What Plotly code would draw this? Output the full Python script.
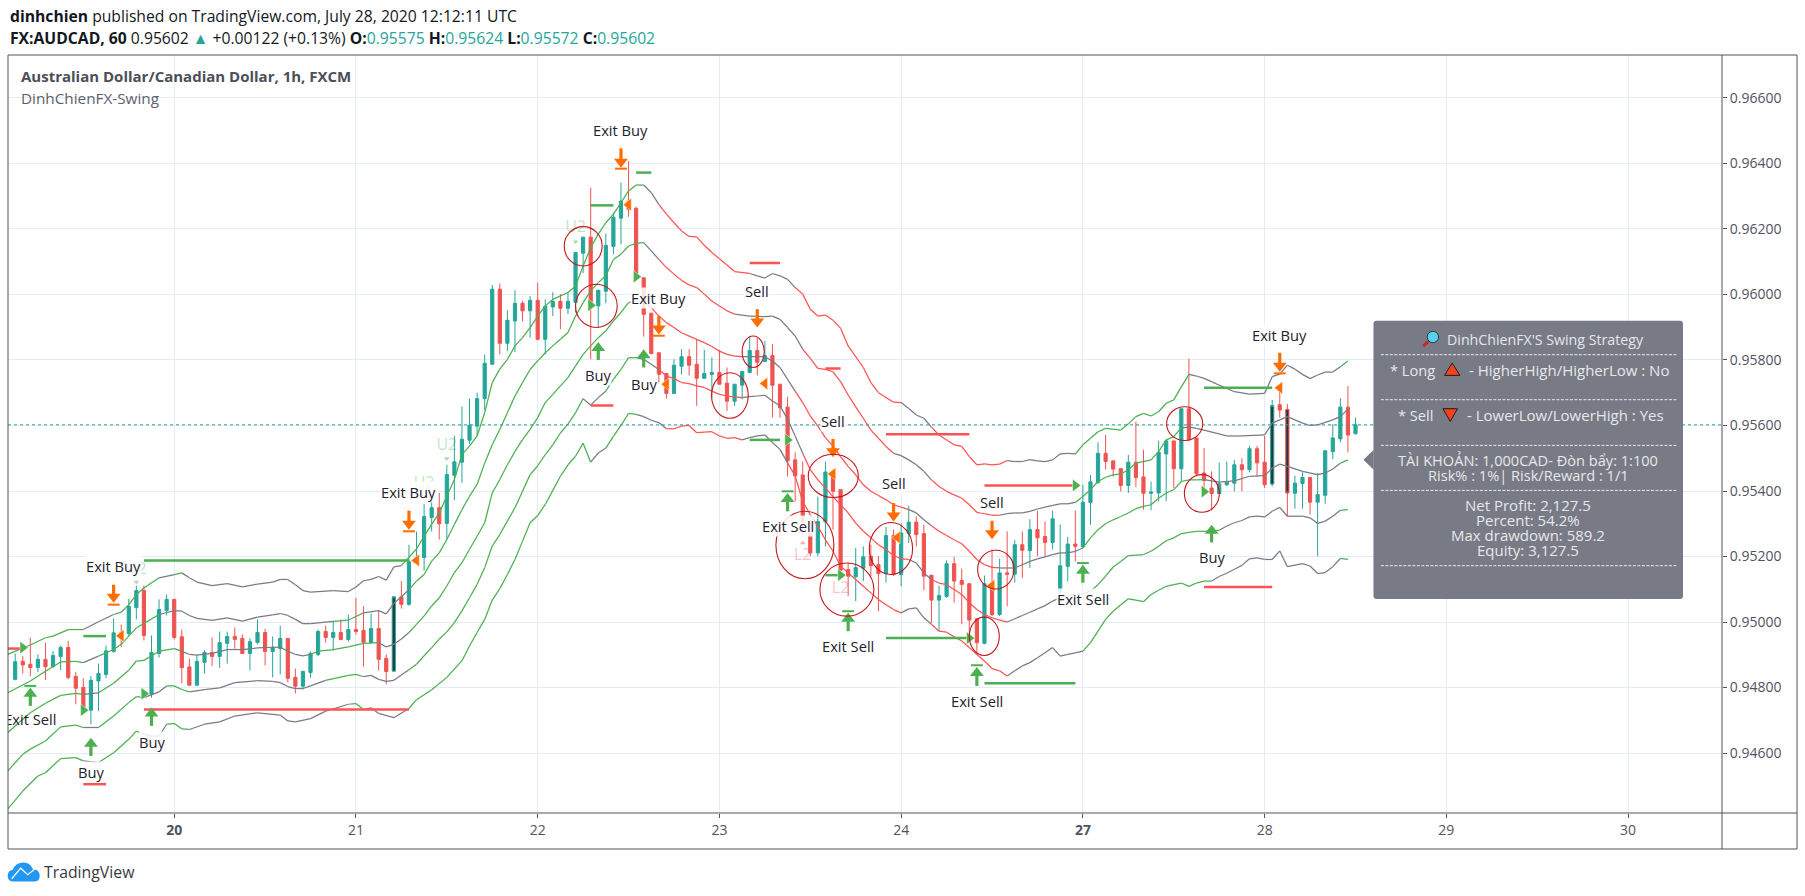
import numpy as np
import plotly.graph_objects as go

SCALE = 1e5
bar_index = list(range(-21, 157))
highlight_bars = [29, 145, 147]
last_close = 0.95602

open_pts = [94825,94880,94871,94861,94886,94864,94895,94922,94834,94800,94731,94820,94840,94910,94967,94965,95044,95096,94779,94904,95035,
95069,94955,94863,94807,94877,94907,94895,94935,94956,94950,94904,94938,94968,94910,94919,94950,94831,94804,94846,94901,94971,94953,94968,94947,
94977,94974,94937,94980,94889,94850,95077,95054,95182,95197,95319,95349,95301,95448,95488,95555,95598,95682,95787,96016,95851,95919,95973,95950,95982,95863,95962,95979,95958,
95976,96126,96175,95965,96010,96147,96233,96285,96263,96051,95943,95822,95759,95698,95781,95810,95787,95744,95756,95762,95729,95674,95723,95762,95829,95795,95814,95726,
95656,95495,95449,95270,95211,95306,95458,95404,95160,95138,95164,95201,95175,95148,95264,95145,95270,95305,95270,95143,95067,95078,95178,95127,95117,95010,94935,95117,95023,
95150,95146,95236,95218,95282,95261,95243,95091,95170,95238,95229,95365,95426,95515,95492,95468,95417,95488,95443,95393,95394,95513,95553,95468,95651,95562,95455,95409,95392,95419,95424,95480,95465,95529,95488,95421,95663,95649,95393,95423,95441,95366,95387,95520,95559,95656,95575]
high_pts = [94904,94896,94952,94901,94937,94911,94928,94943,94847,94828,94835,94873,94928,95011,94992,95071,95111,95111,94959,95069,95084,
95071,94977,94888,94899,94914,94953,94971,94971,94983,94962,94950,95008,94979,94956,94989,94950,94858,94852,94910,94977,94989,95003,95008,95023,
95074,95048,95026,95034,94901,95077,95125,95236,95276,95361,95392,95394,95480,95569,95658,95682,95700,95817,96029,96034,95952,96013,95980,95995,96036,95985,96007,96001,96006,
96128,96175,96326,96013,96186,96250,96342,96407,96268,96051,95943,95822,95759,95802,95833,95833,95863,95831,95808,95831,95777,95726,95765,95873,95868,95858,95848,95726,
95688,95518,95490,95310,95383,95490,95465,95404,95180,95226,95231,95236,95201,95290,95282,95302,95355,95322,95297,95143,95111,95188,95199,95163,95117,95010,95142,95221,95193,
95277,95251,95277,95314,95340,95307,95340,95298,95260,95340,95419,95449,95549,95571,95492,95468,95510,95612,95526,95429,95554,95556,95553,95651,95804,95562,95531,95460,95487,95490,95495,95500,95538,95538,95568,95678,95713,95666,95447,95457,95441,95455,95523,95604,95683,95720,95624]
low_pts = [94822,94843,94835,94847,94823,94860,94853,94825,94749,94728,94688,94728,94828,94906,94923,94957,95008,94944,94769,94891,95020,
94947,94813,94807,94807,94843,94866,94860,94873,94919,94904,94852,94932,94868,94831,94840,94816,94782,94794,94830,94896,94937,94913,94944,94940,
94962,94864,94935,94852,94810,94850,95041,95050,95181,95157,95276,95252,95252,95372,95425,95544,95568,95647,95787,95817,95827,95824,95918,95868,95860,95817,95934,95894,95940,
95945,96065,95802,95899,95973,96123,96153,96237,96046,95871,95817,95731,95682,95698,95756,95753,95660,95744,95685,95726,95644,95660,95680,95759,95753,95795,95624,95624,
95444,95368,95262,95201,95201,95231,95282,95130,95079,95064,95125,95140,95033,95120,95140,95109,95241,95231,95097,94998,94972,95074,95059,94993,94962,94901,94932,95018,95018,
95048,95120,95134,95165,95201,95199,95221,95048,95124,95185,95229,95297,95422,95465,95444,95399,95394,95412,95343,95341,95368,95369,95409,95429,95554,95447,95409,95340,95392,95415,95399,95399,95457,95445,95409,95414,95624,95323,95346,95346,95328,95201,95361,95497,95549,95518,95572]
close_pts = [94879,94869,94861,94886,94864,94898,94922,94831,94798,94733,94822,94843,94912,94967,94959,95048,95096,94959,94907,95038,95069,
94953,94861,94807,94880,94907,94895,94937,94956,94947,94904,94940,94968,94910,94922,94950,94828,94804,94849,94904,94971,94953,94968,94947,94977,
94971,94938,94980,94886,94849,95077,95054,95184,95197,95322,95349,95300,95450,95489,95558,95601,95682,95790,96016,95851,95921,95973,95950,95982,95863,95964,95979,95958,95979,
96128,96175,95965,96013,96150,96236,96285,96260,96049,95939,95820,95756,95698,95784,95810,95784,95744,95759,95762,95726,95674,95726,95765,95829,95793,95814,95723,95654,
95492,95446,95307,95211,95307,95458,95399,95158,95140,95166,95199,95172,95148,95264,95145,95272,95305,95267,95140,95067,95081,95178,95125,95115,95006,94937,95117,95023,95150,
95146,95236,95219,95282,95257,95243,95315,95172,95238,95231,95366,95428,95515,95490,95467,95417,95488,95441,95393,95397,95518,95553,95468,95651,95556,95453,95432,95392,95422,95427,95480,95465,95529,95486,95419,95661,95647,95394,95424,95441,95366,95389,95523,95562,95656,95571,95602]

band_a_x = [-22,-19,-17,-16,-14,-12,-10,-8,-7,-6,-5,-4,-2,0,1,2,3,5,7,9,11,13,14,15,16,17,18,21,23,24,25,26,27,28,29,30,31,32,33,34,35,36,37,38,39,40,41,42,43,44,45,46,47,48,49,50,52,53,54,55,56,57,58,59,60,61,62,63,64,65,66,67,68,69,70,71,72,73,74,76,77,78,79,80,81,82,83,84,85,86,87,88,89,91,92,93,95] + list(range(96,139)) + [140,142,144,145,146,147,148,149,150,151,152,153,154,155]
band_a_y = [94901,94930,94952,94957,94977,94977,95001,95023,95030,95053,95084,95104,95135,95145,95150,95135,95122,95111,95117,95107,95116,95122,95130,95130,95114,95096,95091,95096,95093,95107,95126,95130,95139,95128,95168,95172,95198,95223,95262,95298,95333,95384,95435,95511,95537,95568,95639,95731,95772,95802,95843,95868,95899,95934,95965,95985,96006,96026,96087,96143,96184,96219,96245,96280,96316,96334,96334,96311,96275,96245,96219,96194,96177,96176,96150,96128,96109,96090,96070,96064,96057,96050,96064,96057,96046,96021,96001,95955,95934,95937,95921,95897,95843,95777,95731,95700,95671,
95670,95652,95632,95622,95595,95571,95556,95541,95536,95505,95480,95483,95480,95482,95493,95490,95490,95496,95492,95490,95495,95513,95515,95513,95541,95561,95581,95591,95589,95586,95605,95627,95637,95629,95642,95668,95678,95718,95756,95751,95744,95734,95723,
95703,95696,95698,95749,95757,95784,95772,95756,95743,95754,95763,95763,95779,95797]
band_a_run = [-22,-12,-9,-2,0,1,30,62,64,75,82,96,100,110,119,134,154]
band_a_col = ['g','n','g','n','g','n','g','n','r','n','r','n','r','n','g','n','g']

band_b_x = [-22,-19,-17,-15,-13,-12,-10,-8,-7,-6,-5,-4,-2,0,1,2,3,5,7,9,11,13,14,15,16,17,18,21,23,24,25,27,28] + list(range(29,75)) + [76,78,79,80,81,82,83] + list(range(84,136)) + [136,139,141,144,145,147,149,150,151,153,154,155]
band_b_y = [94784,94820,94850,94878,94880,94876,94896,94916,94932,94957,94982,94996,95023,95035,95033,95020,95011,95005,95013,95003,95015,95022,95026,95020,95008,94995,94995,95002,95006,95017,95028,95035,95025,
95057,95077,95099,95125,95145,95186,95211,95252,95298,95343,95384,95420,95485,95541,95588,95639,95690,95731,95771,95797,95822,95843,95863,95884,95934,95975,96011,96036,96057,96107,96123,96148,96156,96158,96133,96107,96082,96062,96043,96029,96021,96001,95980,95965,95950,95940,
95934,95932,95934,95924,95899,95873,95833,
95805,95774,95771,95764,95734,95693,95657,95622,95586,95561,95536,95515,95508,95495,95480,95460,95434,95414,95399,95388,95378,95358,95335,95331,95326,95326,95331,95333,95333,95338,95345,95351,95356,95361,95361,95365,95383,95404,95429,95442,95449,95452,95465,95485,95490,95495,95520,95556,95566,95593,95595,95591,
95586,95568,95568,95571,95607,95627,95607,95600,95602,95617,95627,95650]
band_b_run = [-22,-12,-10,-2,1,20,25,31,62,64,74,83,95,100,109,119,133]
band_b_col = ['g','n','g','n','n','g','n','g','n','r','n','r','n','r','n','g','n']

band_c_x = [-22,-20,-19,-17,-15,-13,-12,-10,-8,-6,-5,-4,-2,0,1,2,3,5,7,9,11,13,14,15,16,17,18,19,21,23,25,27,28,29,30,31,32] + list(range(33,136)) + [136,138,140,142,144,145,146,147,149,151,152,153,154,155]
band_c_y = [94662,94703,94723,94752,94776,94782,94779,94784,94813,94853,94881,94883,94911,94919,94911,94901,94899,94904,94916,94916,94921,94923,94923,94911,94901,94897,94901,94911,94916,94924,94935,94937,94924,94932,94948,94968,94993,
95019,95049,95074,95110,95151,95181,95222,95262,95303,95394,95435,95480,95521,95557,95588,95624,95670,95695,95721,95746,95782,95817,95843,95868,95889,95919,95945,95975,95980,95977,95960,95934,95914,95899,95883,95873,95863,95853,95841,95827,95817,95812,95810,95810,95810,95810,95797,95777,95741,95705,95670,95629,95598,95563,95537,
95505,95475,95449,95419,95399,95386,95373,95358,95351,95343,95333,95312,95294,95277,95264,95251,95239,95216,95191,95175,95167,95165,95165,95165,95175,95185,95193,95199,95206,95211,95211,95216,95226,95257,95282,95300,95312,95322,95333,95346,95353,95358,95378,95394,95404,95429,95434,95434,
95435,95427,95431,95445,95447,95470,95482,95475,95460,95450,95455,95467,95485,95495]
band_c_run = [-22,-12,-10,1,18,27,31,61,63,75,82,97,100,109,120,136,154]
band_c_col = ['g','n','g','n','g','n','g','n','r','n','r','n','r','n','g','n','g']

band_d_x = [-22,-20,-19,-17,-15,-13,-12,-10,-8,-6,-5,-4,-2,-1,0,1,2,4,6,8,11,13,14,15,16,17,18,20,23,24,25,26,27,28,29] + list(range(31,136)) + [136,138,139,140,141,142,143,144,145,146,147,149,150,151,152,153,154,155]
band_d_y = [94545,94596,94612,94637,94680,94685,94678,94678,94713,94754,94772,94769,94787,94805,94805,94794,94787,94794,94799,94815,94821,94819,94815,94803,94797,94797,94805,94822,94837,94840,94833,94837,94825,94819,94822,
94854,94871,94897,94922,94948,94970,94998,95034,95074,95115,95166,95232,95267,95308,95349,95399,95450,95477,95511,95541,95577,95604,95639,95682,95662,95685,95705,95741,95771,95807,95807,95802,95787,95771,95751,95743,95731,95728,95721,95716,95705,95695,95690,95687,95685,95688,95690,95692,95675,95660,95619,95568,95515,
95465,95434,95409,95383,95358,95333,95302,95277,95257,95236,95221,95203,95193,95191,95180,95150,95130,95119,95114,95099,95084,95059,95038,95023,95013,95006,95000,95010,95020,95030,95040,95050,95064,95074,95079,95084,95086,95094,95114,95140,95168,95185,95203,95204,95206,95216,95231,95248,95257,95270,95274,95277,
95277,95280,95293,95303,95310,95321,95323,95321,95338,95350,95323,95323,95318,95301,95308,95323,95341,95343]
band_d_run = [-22,-12,-10,-4,-1,2,20,25,31,54,57,61,64,75,83,97,100,110,121,137,154]
band_d_col = ['g','n','g','n','g','n','g','n','g','n','g','n','r','n','r','n','r','n','g','n','g']

band_e_x = [-22,-20,-18,-17,-15,-13,-12,-10,-8,-6,-5,-4,-3,-2,-1,0,1,2,4,6,8,11,14,15,16,18,20,23,24,25,26,27,29,31,32,34,36] + list(range(38,137)) + [137,138,139,140,141,142,143,144,145,146,147,148,149,150,151,152,153,154,155]
band_e_y = [94429,94484,94530,94540,94583,94586,94576,94571,94601,94642,94667,94657,94652,94652,94688,94690,94674,94672,94688,94695,94713,94723,94716,94698,94695,94705,94728,94749,94751,94733,94738,94721,94708,94736,94763,94793,94831,
94882,94927,94968,95008,95067,95102,95145,95191,95247,95303,95325,95359,95402,95445,95480,95506,95546,95488,95516,95531,95567,95600,95637,95634,95627,95616,95609,95590,95590,95598,95600,95578,95580,95581,95568,95561,95563,95556,95563,95568,95571,95548,95527,95486,95446,
95368,95328,95292,95251,95216,95170,95150,95130,95109,95089,95069,95053,95038,95028,95040,95043,95013,94993,94972,94969,94955,94942,94922,94901,94881,94858,94851,94835,94851,94866,94876,94891,94906,94922,94896,94901,94906,94911,94937,94972,95008,95033,95053,95071,95067,95062,95084,95097,95109,95114,95119,95109,95119,95125,
95125,95139,95149,95161,95173,95193,95196,95191,95191,95217,95169,95174,95178,95171,95148,95151,95169,95194,95191]
band_e_run = [-22,-12,-10,-4,-1,2,23,25,31,55,57,61,65,75,81,96,100,110,120,137,154]
band_e_col = ['g','n','g','n','g','n','g','n','g','n','g','n','r','n','r','n','r','n','g','n','g']

green_lines_x0 = [-12,-4,55,61,76,86,94,107,136]
green_lines_x1 = [-9,31,58,63,80,88,105,119,145]
green_lines_y = [94957,95188,96272,96372,95556,95143,94951,94813,95715]
red_lines_x0 = [-22,-12,-4,55,76,86,94,107,136]
red_lines_x1 = [-20,-9,31,58,80,88,105,119,145]
red_lines_y = [94919,94505,94733,95661,96096,95774,95573,95417,95107]

up_arrow_x = [-19,-11,-3,56,62,81,89,106,120,137]
up_arrow_tip = [94799,94647,94739,95855,95833,95394,95028,94863,95175,95297]
up_arrow_tail = [94744,94591,94683,95800,95777,95338,94972,94805,95120,95243]
up_bar_x = [-19,81,89,106,120]
up_bar_y = [94805,95399,95033,94868,95180]
down_arrow_x = [-8,31,59,64,77,87,95,108,146]
down_arrow_tip = [95059,95282,96387,95878,95899,95503,95307,95253,95764]
down_arrow_tail = [95114,95340,96446,95934,95955,95559,95363,95309,95822]
down_bar_x = [-8,31,59,64,146]
down_bar_y = [95053,95277,96384,95874,95759]

entry_long_x = [-20,-12,-4,55,61,81,88,105,119,136]
entry_long_y = [94922,94731,94781,95967,96054,95556,95143,94951,95417,95398]
exit_short_x = [-7,32,60,65,78,87,95.5,108,146]
exit_short_y = [94958,95188,96274,95726,95728,95452,95258,95111,95715]

label_text = ['Buy','Buy','Exit Buy','Exit Buy','Exit Buy','Buy','Buy','Exit Buy','Sell','Sell','Sell','Sell','Exit Sell','Exit Sell','Exit Sell','Exit Sell','Buy','Exit Buy']
label_x = [-11,-3,-8,31,59,56,62,64,77,87,95,108,81,89,106,120,137,146]
label_y = [94543,94635,95170,95396,96502,95753,95726,95990,96011,95615,95424,95365,95292,94927,94759,95069,95199,95875]
clipped_label_x = [-19]
clipped_label_y = [94698]
clipped_label_text = ['Exit Sell']

u2_x = [-5,33,36,53]
u2_y = [95160,95420,95536,96202]
u2_tri_x = [-5,33,36,53]
u2_tri_y = [95122,95384,95499,96161]
l2_x = [83,88]
l2_y = [95203,95101]
l2_tri_x = [83]
l2_tri_y = [95241]

circle_x0 = [51.5,53.0,75.0,70.96,83.73,79.46,85.27,91.79,106.1,105.0,131.06,133.4]
circle_x1 = [56.52,58.5,77.92,75.8,90.34,87.12,92.4,97.51,110.9,108.96,135.82,138.02]
circle_y0 = [96207,96031,95873,95761,95512,95338,95180,95304,95219,95015,95657,95450]
circle_y1 = [96087,95899,95777,95622,95380,95132,95018,95145,95101,94898,95554,95335]

day_ticks = [0,24,48,72,96,120,144,168,192]
day_labels = ['<b>20</b>','21','22','23','24','<b>27</b>','28','29','30']
price_ticks = [0.946,0.948,0.950,0.952,0.954,0.956,0.958,0.960,0.962,0.964,0.966]

panel_title = "DinhChienFX'S Swing Strategy"
panel_lines = ["TÀI KHOẢN: 1,000CAD- Đòn bẩy: 1:100","Risk% : 1%| Risk/Reward : 1/1","Net Profit: 2,127.5","Percent: 54.2%","Max drawdown: 589.2","Equity: 3,127.5"]

assert len(bar_index)==len(open_pts)==len(high_pts)==len(low_pts)==len(close_pts), (len(open_pts),len(high_pts),len(low_pts),len(close_pts))
for nm,a,b in [('a',band_a_x,band_a_y),('b',band_b_x,band_b_y),('c',band_c_x,band_c_y),('d',band_d_x,band_d_y),('e',band_e_x,band_e_y)]:
    assert len(a)==len(b),(nm,len(a),len(b))

# ---------- layout geometry ----------
W,H = 1805,896
L,R,T,B = 8.3,1721.7,55.3,813.3
px = lambda x:(x-L)/(R-L)
py = lambda y:(B-y)/(B-T)
FONT = "Open Sans"
TEAL,RED,GREEN,ORANGE,GRAY = '#26a69a','#ef5350','#4caf50','#ff6d00','#787b86'
AXIS = '#50535e'
BAND = {'g':'#4caf50','n':'#787b86','r':'#ff5252'}
p = lambda a:[v/SCALE for v in a]

fig = go.Figure()
mask = [i not in highlight_bars for i in bar_index]
sel = lambda a,m:[v for v,k in zip(a,m) if k]
fig.add_trace(go.Candlestick(x=sel(bar_index,mask),open=p(sel(open_pts,mask)),high=p(sel(high_pts,mask)),low=p(sel(low_pts,mask)),close=p(sel(close_pts,mask)),
    increasing=dict(line=dict(color=TEAL,width=1),fillcolor=TEAL),decreasing=dict(line=dict(color=RED,width=1),fillcolor=RED),hoverinfo='skip',showlegend=False))
inv = [not k for k in mask]
fig.add_trace(go.Candlestick(x=sel(bar_index,inv),open=p(sel(open_pts,inv)),high=p(sel(high_pts,inv)),low=p(sel(low_pts,inv)),close=p(sel(close_pts,inv)),
    increasing=dict(line=dict(color=TEAL,width=1),fillcolor='#2b3640'),decreasing=dict(line=dict(color=RED,width=1),fillcolor='#2b3640'),hoverinfo='skip',showlegend=False))

def band(xs,ys,runs,cols):
    seg={'g':([],[]),'n':([],[]),'r':([],[])}
    for i in range(len(xs)-1):
        c='g'
        for s,k in zip(runs,cols):
            if xs[i]>=s: c=k
        seg[c][0].extend([xs[i],xs[i+1],None]); seg[c][1].extend([ys[i]/SCALE,ys[i+1]/SCALE,None])
    for k,(sx,sy) in seg.items():
        if sx:
            fig.add_trace(go.Scatter(x=sx,y=sy,mode='lines',line=dict(color=BAND[k],width=1.25),hoverinfo='skip',showlegend=False))
band(band_a_x,band_a_y,band_a_run,band_a_col)
band(band_b_x,band_b_y,band_b_run,band_b_col)
band(band_c_x,band_c_y,band_c_run,band_c_col)
band(band_d_x,band_d_y,band_d_run,band_d_col)
band(band_e_x,band_e_y,band_e_run,band_e_col)

def hlines(x0,x1,y,color):
    xs,ys=[],[]
    for a,b,c in zip(x0,x1,y):
        xs+=[a,b,None]; ys+=[c/SCALE,c/SCALE,None]
    fig.add_trace(go.Scatter(x=xs,y=ys,mode='lines',line=dict(color=color,width=2.5),hoverinfo='skip',showlegend=False))
hlines(green_lines_x0,green_lines_x1,green_lines_y,GREEN)
hlines(red_lines_x0,red_lines_x1,red_lines_y,'#ff5252')

PX = 32750.0
def arrows(xs,tips,tails,color,sym,sign,bx,by):
    sx,sy=[],[]
    off=6/PX
    head=8/PX
    for a,t,u in zip(xs,tips,tails):
        sx+=[a,a,None]; sy+=[u/SCALE,t/SCALE-sign*head,None]
    fig.add_trace(go.Scatter(x=sx,y=sy,mode='lines',line=dict(color=color,width=3.2),hoverinfo='skip',showlegend=False))
    fig.add_trace(go.Scatter(x=xs,y=[t/SCALE-sign*off for t in tips],mode='markers',marker=dict(symbol=sym,size=12,color=color,line=dict(width=0)),hoverinfo='skip',showlegend=False))
    fig.add_trace(go.Scatter(x=bx,y=p(by),mode='markers',marker=dict(symbol='line-ew',size=8.5,color=color,line=dict(width=2,color=color)),hoverinfo='skip',showlegend=False))
arrows(up_arrow_x,up_arrow_tip,up_arrow_tail,GREEN,'triangle-up',1,up_bar_x,up_bar_y)
arrows(down_arrow_x,down_arrow_tip,down_arrow_tail,ORANGE,'triangle-down',-1,down_bar_x,down_bar_y)

fig.add_trace(go.Scatter(x=entry_long_x,y=p(entry_long_y),mode='markers',marker=dict(symbol='triangle-right',size=11,color=GREEN,line=dict(width=0.5,color='white')),hoverinfo='skip',showlegend=False))
fig.add_trace(go.Scatter(x=exit_short_x,y=p(exit_short_y),mode='markers',marker=dict(symbol='triangle-left',size=11,color=ORANGE,line=dict(width=0.5,color='white')),hoverinfo='skip',showlegend=False))

fig.add_trace(go.Scatter(x=u2_x,y=p(u2_y),mode='text',text=['U2']*len(u2_x),textfont=dict(family=FONT,size=16,color='rgba(76,175,80,0.35)'),hoverinfo='skip',showlegend=False))
fig.add_trace(go.Scatter(x=u2_tri_x,y=p(u2_tri_y),mode='markers',marker=dict(symbol='triangle-down',size=5,color='rgba(76,175,80,0.45)'),hoverinfo='skip',showlegend=False))
fig.add_trace(go.Scatter(x=l2_x,y=p(l2_y),mode='text',text=['L2']*len(l2_x),textfont=dict(family=FONT,size=16,color='rgba(239,83,80,0.35)'),hoverinfo='skip',showlegend=False))
fig.add_trace(go.Scatter(x=l2_tri_x,y=p(l2_tri_y),mode='markers',marker=dict(symbol='triangle-up',size=5,color='rgba(239,83,80,0.45)'),hoverinfo='skip',showlegend=False))
fig.add_trace(go.Scatter(x=clipped_label_x,y=p(clipped_label_y),mode='text',text=clipped_label_text,textfont=dict(family=FONT,size=14.7,color='#1e222d'),hoverinfo='skip',showlegend=False))

shapes=[]
shapes.append(dict(type='line',xref='paper',x0=0,x1=1,yref='y',y0=last_close,y1=last_close,line=dict(color=TEAL,width=1,dash='dot'),layer='above'))
for a,b,c,d in zip(circle_x0,circle_x1,circle_y0,circle_y1):
    shapes.append(dict(type='circle',xref='x',yref='y',x0=a,x1=b,y0=c/SCALE,y1=d/SCALE,line=dict(color='#c4161c',width=1.1),layer='above'))

def path(points,close=True):
    s='M '+' L '.join(f'{px(x):.5f} {py(y):.5f}' for x,y in points)
    return s+(' Z' if close else '')
def rrect(x0,y0,x1,y1,r):
    q=lambda x,y:f'{px(x):.5f} {py(y):.5f}'
    return (f'M {q(x0+r,y0)} L {q(x1-r,y0)} Q {q(x1,y0)} {q(x1,y0+r)} L {q(x1,y1-r)} Q {q(x1,y1)} {q(x1-r,y1)} '
            f'L {q(x0+r,y1)} Q {q(x0,y1)} {q(x0,y1-r)} L {q(x0,y0+r)} Q {q(x0,y0)} {q(x0+r,y0)} Z')
PANEL='#787b86'
shapes.append(dict(type='path',xref='paper',yref='paper',path=rrect(1373.3,321,1682.7,599.3,3),fillcolor=PANEL,line=dict(width=0),layer='above'))
shapes.append(dict(type='path',xref='paper',yref='paper',path=path([(1373.5,450),(1363.3,460),(1373.5,470)]),fillcolor=PANEL,line=dict(width=0),layer='above'))
for y in [355,400,445.7,490.7,566]:
    shapes.append(dict(type='line',xref='paper',yref='paper',x0=px(1380.7),x1=px(1677.3),y0=py(y),y1=py(y),line=dict(color='#e9eaec',width=1,dash='3px,1.5px'),layer='above'))
shapes.append(dict(type='path',xref='paper',yref='paper',path=path([(1452,363.3),(1444.3,375.7),(1459.7,375.7)]),fillcolor='#f4411e',line=dict(color='#1e1e1e',width=1),layer='above'))
shapes.append(dict(type='path',xref='paper',yref='paper',path=path([(1442.7,409),(1457.3,409),(1450,421.7)]),fillcolor='#f4411e',line=dict(color='#1e1e1e',width=1),layer='above'))
shapes.append(dict(type='line',xref='paper',yref='paper',x0=px(1428.3),x1=px(1423),y0=py(341.7),y1=py(346.5),line=dict(color='#c62828',width=3),layer='above'))
shapes.append(dict(type='circle',xref='paper',yref='paper',x0=px(1427),x1=px(1438.4),y0=py(331.6),y1=py(343),fillcolor='#55d3ee',line=dict(color='#2a3a44',width=1),layer='above'))
# frame
shapes.append(dict(type='rect',xref='paper',yref='paper',x0=px(8.3),x1=px(1796.7),y0=py(849.3),y1=py(55.3),line=dict(color=AXIS,width=1),layer='above'))
shapes.append(dict(type='line',xref='paper',yref='paper',x0=1,x1=1,y0=py(849.3),y1=py(55.3),line=dict(color=AXIS,width=1),layer='above'))
shapes.append(dict(type='line',xref='paper',yref='paper',x0=0,x1=px(1796.7),y0=0,y1=0,line=dict(color=AXIS,width=1),layer='above'))
# logo
def q(x,y): return f'{px(x):.5f} {py(y):.5f}'
logo=f'M {q(13,881.7)} Q {q(8,881.7)} {q(8,876)} Q {q(8,871)} {q(13,870)} Q {q(16,862.7)} {q(24,862.7)} Q {q(30,862.7)} {q(33,869)} Q {q(40,870)} {q(40,876)} Q {q(40,881.7)} {q(35,881.7)} Z'
shapes.append(dict(type='path',xref='paper',yref='paper',path=logo,fillcolor='#2196f3',line=dict(width=0),layer='above'))
shapes.append(dict(type='path',xref='paper',yref='paper',path=path([(12,879),(21,868.5),(28,875),(36,868.5)],close=False),line=dict(color='white',width=1.3),fillcolor='rgba(0,0,0,0)',layer='above'))

ann=[]
def text(x,y,s,size,color,anchor='left',bold=False):
    ann.append(dict(xref='paper',yref='paper',x=px(x),y=py(y),text=s,showarrow=False,xanchor=anchor,yanchor='middle',font=dict(family=FONT,size=size,color=color),align=anchor))
DARK='#131722'
text(8,16.7,'<b>dinhchien</b> published on TradingView.com, July 28, 2020 12:12:11 UTC',15.7,DARK)
G=f'<span style="color:{TEAL}">'
text(8,38.3,f'<b>FX:AUDCAD, 60</b> 0.95602 {G}▲</span> +0.00122 (+0.13%) <b>O:</b>{G}0.95575</span> <b>H:</b>{G}0.95624</span> <b>L:</b>{G}0.95572</span> <b>C:</b>{G}0.95602</span>',15.7,DARK)
text(19,76.7,'<b>Australian Dollar/Canadian Dollar, 1h, FXCM</b>',15,'#4c4e58')
text(19,98.3,'DinhChienFX-Swing',15.3,'#5d606b')
text(42,872,'TradingView',15.8,'#363a45')
LIGHT='#e6e7ea'
text(1445,340,panel_title,14.2,LIGHT,'left')
text(1436.7,370,'* Long',14.6,LIGHT,'right')
text(1467,370,'- HigherHigh/HigherLow : No',15,LIGHT)
text(1435,415,'* Sell',14.6,LIGHT,'right')
text(1465,415,'- LowerLow/LowerHigh : Yes',15,LIGHT)
for s,y,z in zip(panel_lines,[460,475,505,520,535,550],[14.6,14.6,15,15,15,15]):
    text(1528,y,s,z,LIGHT,'center')
for s,a,b in zip(label_text,label_x,label_y):
    ann.append(dict(xref='x',yref='y',x=a,y=b/SCALE,text=s,showarrow=False,xanchor='center',yanchor='middle',font=dict(family=FONT,size=14.7,color='#1e222d'),bgcolor='rgba(255,255,255,0.85)',borderpad=0))

GRID='#e4edf3'
fig.update_layout(width=W,height=H,autosize=False,margin=dict(l=L,r=W-R,t=T,b=H-B,pad=0,autoexpand=False),paper_bgcolor='white',plot_bgcolor='white',
    showlegend=False,boxgap=0.4,shapes=shapes,annotations=ann,hovermode=False,font=dict(family=FONT),
    xaxis=dict(range=[-21.95,204.4],tickmode='array',tickvals=day_ticks,ticktext=day_labels,showgrid=True,gridcolor=GRID,gridwidth=1,zeroline=False,showline=False,
        ticks='outside',ticklen=4,tickcolor=AXIS,tickfont=dict(family=FONT,size=14,color=AXIS),rangeslider=dict(visible=False),fixedrange=True,automargin=False),
    yaxis=dict(range=[0.94417,0.96731],side='right',tickmode='array',tickvals=price_ticks,tickformat='.5f',showgrid=True,gridcolor=GRID,gridwidth=1,zeroline=False,showline=False,
        ticks='outside',ticklen=4,tickcolor=AXIS,tickfont=dict(family=FONT,size=14,color=AXIS),fixedrange=True,automargin=False))
fig.write_html("out.html",post_script="document.body.style.margin='0';",config=dict(displayModeBar=False))
